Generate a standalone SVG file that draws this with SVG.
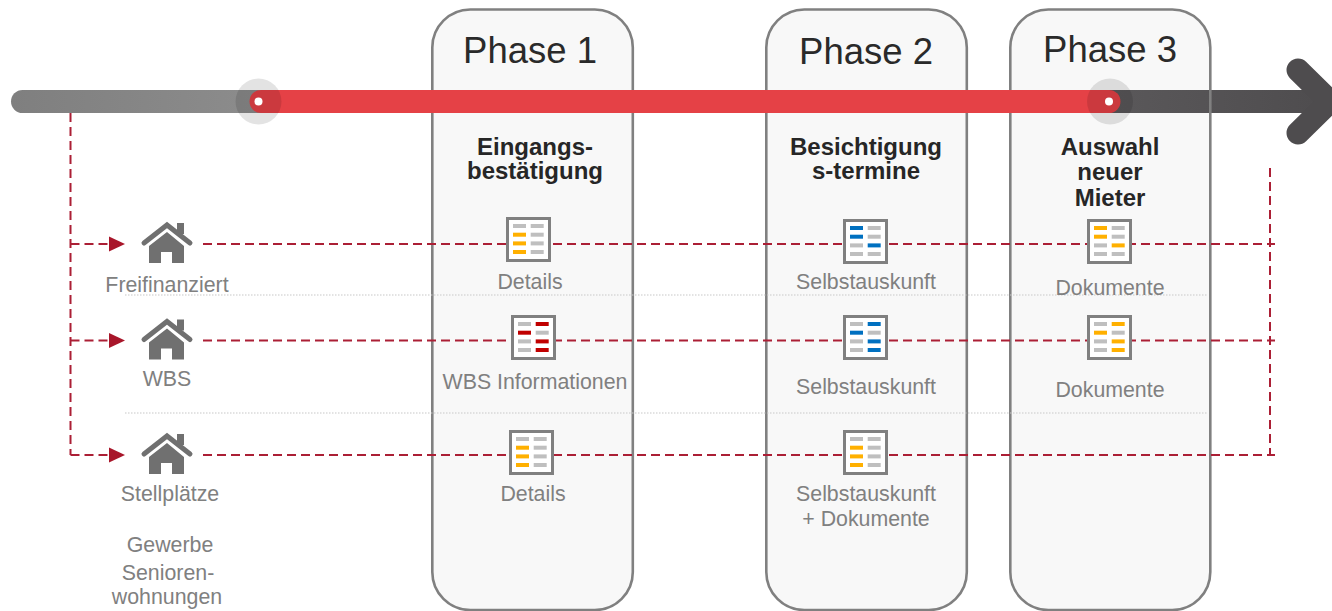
<svg xmlns="http://www.w3.org/2000/svg" xmlns:xlink="http://www.w3.org/1999/xlink" width="1332" height="611" viewBox="0 0 1332 611">
<style>
text{font-family:"Liberation Sans",Arial,sans-serif;text-anchor:middle}
.ph{font-size:36.5px;fill:#2a2a2a}
.hd{font-size:24px;font-weight:bold;fill:#262626}
.lb{font-size:21.33px;fill:#808080}
.panel{fill:#f8f8f8;stroke:#808080;stroke-width:2.6}
.dash{fill:none;stroke:#ab1f35;stroke-width:2;stroke-dasharray:9 5}
.dot{fill:none;stroke:#c8c8c8;stroke-width:1.2;stroke-dasharray:1.5 1.5}
.bar{fill:none;stroke-width:23;stroke-linecap:round;stroke-linejoin:round}
.halo{fill:#000;fill-opacity:.11}
.frame{fill:#fff;stroke:#808080;stroke-width:3}
.g{fill:#bfbfbf}
.c{fill:currentColor}
.or{color:#ffb000}
.bl{color:#0070c0}
.rd{color:#c00000}
</style>
<defs>
<linearGradient id="gGrey" gradientUnits="userSpaceOnUse" x1="11" x2="260" y1="0" y2="0"><stop offset="0" stop-color="#7f7f7f"/><stop offset="1" stop-color="#8c8c8c"/></linearGradient>
<linearGradient id="gDark" gradientUnits="userSpaceOnUse" x1="1110" x2="1332" y1="0" y2="0"><stop offset="0" stop-color="#5a585a"/><stop offset="1" stop-color="#4e4c4e"/></linearGradient>
<g id="house" fill="#707070">
<path d="M-23 20L0 2L23 20" fill="none" stroke="#707070" stroke-width="5" stroke-linecap="round" stroke-linejoin="miter"/>
<rect x="10" y="0" width="7" height="11"/>
<path d="M0 9L-18 23V40H-6V29H5V40H17V23Z"/>
</g>
<g id="p1">
<rect class="frame" x="1.5" y="1.5" width="42" height="42"/>
<rect class="g" x="7" y="7" width="13" height="4"/><rect class="c" x="7" y="15.7" width="13" height="4"/><rect class="c" x="7" y="24.4" width="13" height="4"/><rect class="c" x="7" y="33" width="13" height="4"/>
<rect class="g" x="24.7" y="7" width="13" height="4"/><rect class="g" x="24.7" y="15.7" width="13" height="4"/><rect class="g" x="24.7" y="24.4" width="13" height="4"/><rect class="g" x="24.7" y="33" width="13" height="4"/>
</g>
<g id="p2">
<rect class="frame" x="1.5" y="1.5" width="42" height="42"/>
<rect class="c" x="7" y="7" width="13" height="4"/><rect class="c" x="7" y="15.7" width="13" height="4"/><rect class="g" x="7" y="24.4" width="13" height="4"/><rect class="g" x="7" y="33" width="13" height="4"/>
<rect class="g" x="24.7" y="7" width="13" height="4"/><rect class="g" x="24.7" y="15.7" width="13" height="4"/><rect class="c" x="24.7" y="24.4" width="13" height="4"/><rect class="g" x="24.7" y="33" width="13" height="4"/>
</g>
<g id="p3">
<rect class="frame" x="1.5" y="1.5" width="42" height="42"/>
<rect class="g" x="7" y="7" width="13" height="4"/><rect class="c" x="7" y="15.7" width="13" height="4"/><rect class="g" x="7" y="24.4" width="13" height="4"/><rect class="g" x="7" y="33" width="13" height="4"/>
<rect class="c" x="24.7" y="7" width="13" height="4"/><rect class="g" x="24.7" y="15.7" width="13" height="4"/><rect class="c" x="24.7" y="24.4" width="13" height="4"/><rect class="c" x="24.7" y="33" width="13" height="4"/>
</g>
</defs>

<g id="phase-1-panel"><rect class="panel" x="432.3" y="9.5" width="200.5" height="600.5" rx="38"/></g>
<g id="phase-2-panel"><rect class="panel" x="766.3" y="9.5" width="200.5" height="600.5" rx="38"/></g>
<g id="phase-3-panel"><rect class="panel" x="1010.3" y="9.5" width="200" height="600.5" rx="38"/></g>

<g id="separators">
<path class="dot" d="M125 295H1208"/>
<path class="dot" d="M125 413H1208"/>
</g>

<g id="timeline">
<path class="bar" d="M22.5 101.5H258" stroke="url(#gGrey)"/>
<path class="bar" d="M1110 101.5H1330" stroke="url(#gDark)"/>
<path class="bar" d="M1298 70L1330 101.5L1298 133" stroke="#4e4c4e"/>
<path d="M1210.3 90V113" stroke="#808080" stroke-width="2.6"/>
<path class="bar" d="M261 101.5H1109" stroke="#e54146"/>
<circle class="halo" cx="258.5" cy="101.5" r="23"/>
<circle class="halo" cx="1110" cy="101.5" r="23"/>
<circle cx="258.5" cy="101.5" r="4" fill="#fff"/>
<circle cx="1109" cy="101.5" r="4" fill="#fff"/>
</g>

<g id="connectors">
<path class="dash" d="M70.5 113V455"/>
<path class="dash" d="M70.5 244H110"/>
<path class="dash" d="M70.5 340.5H110"/>
<path class="dash" d="M70.5 455H110"/>
<path class="dash" d="M203 244H1275"/>
<path class="dash" d="M203 340.5H1275"/>
<path class="dash" d="M203 455H1275"/>
<path class="dash" d="M1270 168V455"/>
<path d="M109 236.5L125 244L109 251.5Z" fill="#a8162a"/>
<path d="M109 333L125 340.5L109 348Z" fill="#a8162a"/>
<path d="M109 447.5L125 455L109 462.5Z" fill="#a8162a"/>
</g>

<g id="phase-1-title"><text class="ph" x="530" y="63">Phase 1</text></g>
<g id="phase-2-title"><text class="ph" x="866" y="64">Phase 2</text></g>
<g id="phase-3-title"><text class="ph" x="1110" y="62">Phase 3</text></g>

<g id="step-eingang"><text class="hd" x="535" y="155">Eingangs-</text><text class="hd" x="535" y="179">bestätigung</text></g>
<g id="step-besichtigung"><text class="hd" x="866" y="155">Besichtigung</text><text class="hd" x="866" y="179">s-termine</text></g>
<g id="step-auswahl"><text class="hd" x="1110" y="155">Auswahl</text><text class="hd" x="1110" y="180">neuer</text><text class="hd" x="1110" y="206">Mieter</text></g>

<g id="row-freifinanziert"><use href="#house" x="167" y="223"/><text class="lb" x="167" y="292">Freifinanziert</text></g>
<g id="row-wbs"><use href="#house" x="167" y="319.5"/><text class="lb" x="167" y="386">WBS</text></g>
<g id="row-stellplaetze"><use href="#house" x="167" y="434"/><text class="lb" x="170" y="501">Stellplätze</text></g>
<g id="row-gewerbe"><text class="lb" x="170" y="552">Gewerbe</text></g>
<g id="row-senioren"><text class="lb" x="168" y="580">Senioren-</text><text class="lb" x="167" y="604">wohnungen</text></g>

<g id="doc-details-1" class="or"><use href="#p1" x="506" y="217"/><text class="lb" x="530" y="289">Details</text></g>
<g id="doc-wbs" class="rd"><use href="#p3" x="511" y="315"/><text class="lb" x="535" y="389">WBS Informationen</text></g>
<g id="doc-details-2" class="or"><use href="#p1" x="509" y="430"/><text class="lb" x="533" y="501">Details</text></g>

<g id="doc-selbst-1" class="bl"><use href="#p2" x="843" y="219"/><text class="lb" x="866" y="289">Selbstauskunft</text></g>
<g id="doc-selbst-2" class="bl"><use href="#p3" x="843" y="315"/><text class="lb" x="866" y="394">Selbstauskunft</text></g>
<g id="doc-selbst-3" class="or"><use href="#p1" x="843" y="430"/><text class="lb" x="866" y="501">Selbstauskunft</text><text class="lb" x="866" y="526">+ Dokumente</text></g>

<g id="doc-dok-1" class="or"><use href="#p2" x="1087" y="219"/><text class="lb" x="1110" y="295">Dokumente</text></g>
<g id="doc-dok-2" class="or"><use href="#p3" x="1087" y="315"/><text class="lb" x="1110" y="397">Dokumente</text></g>
</svg>
